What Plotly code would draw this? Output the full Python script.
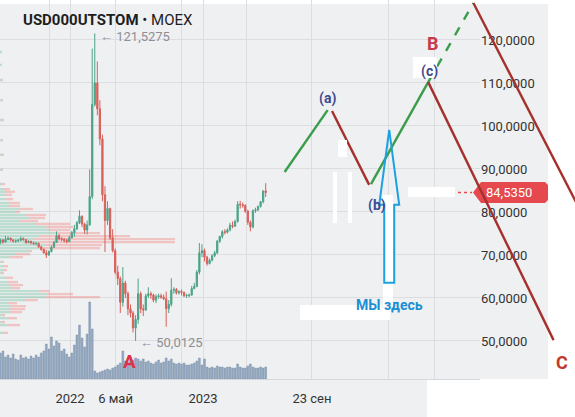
import pandas as pd
import plotly.graph_objects as go

# ---------------- data ----------------
week_start = "2021-06-24"  # weekly candles (Thursdays)
opens = [72.9, 73.5, 73.0, 73.6, 73.9, 73.5, 73.2, 73.3, 73.4, 73.8, 73.6, 72.9, 73.2, 72.8, 72.6, 72.7, 71.9, 71.3, 70.5, 70.0,
         70.8, 71.8, 72.9, 74.5, 73.8, 73.6, 73.4, 73.1,
         74.0, 75.2, 76.1, 77.5, 79.0, 77.2, 75.8, 77.0, 83.6, 105.0, 110.0, 104.0, 97.0, 84.0, 78.0, 80.8, 74.0, 71.0, 66.0, 64.5,
         59.0, 63.5, 61.0, 57.5, 56.5, 53.0, 55.0, 61.0, 57.5, 57.2, 60.5, 61.0, 60.7, 59.5, 60.3, 60.5, 60.2, 59.8, 57.5, 58.5,
         61.8, 62.0, 61.2, 61.5, 61.3, 60.5, 60.6, 60.7, 62.2, 62.7, 66.0, 70.5,
         71.0, 69.5, 68.0, 68.8, 69.8, 70.5, 73.2, 74.3, 75.4, 75.3, 75.8, 76.9, 76.7, 77.8, 81.8, 81.7, 81.5, 80.2, 77.6, 76.5,
         80.3, 80.5, 81.3, 82.4, 84.9]
highs = [73.8, 73.7, 74.4, 74.3, 74.1, 73.7, 73.6, 73.7, 74.3, 74.1, 73.7, 73.4, 73.3, 73.1, 73.0, 72.9, 72.1, 71.5, 71.2, 71.0,
         72.2, 73.3, 75.5, 74.9, 74.1, 74.0, 73.8, 74.5,
         75.6, 77.0, 77.9, 80.4, 79.2, 77.5, 78.0, 89.9, 118.0, 121.5275, 115.0, 106.0, 98.0, 86.0, 82.5, 81.0, 76.0, 71.5, 67.5, 65.0,
         67.2, 64.0, 61.5, 58.5, 57.0, 56.0, 64.5, 61.5, 58.5, 61.0, 62.5, 61.5, 61.0, 60.8, 61.0, 61.0, 60.8, 61.5, 59.5, 64.6,
         62.5, 62.3, 61.8, 62.0, 61.5, 61.0, 61.0, 62.8, 63.5, 66.5, 72.8, 72.5,
         71.5, 69.8, 69.2, 70.2, 71.0, 73.5, 74.5, 75.8, 76.0, 76.2, 77.5, 77.8, 78.2, 82.5, 82.6, 82.2, 81.8, 80.5, 78.0, 80.6,
         81.0, 81.5, 82.5, 85.0, 86.7]
lows = [72.5, 72.6, 72.9, 73.4, 73.2, 72.9, 72.8, 73.0, 73.2, 73.3, 72.6, 72.7, 72.5, 72.4, 72.3, 71.6, 71.0, 70.3, 69.3, 69.8,
        70.6, 71.7, 72.8, 73.4, 73.2, 72.9, 72.7, 73.0,
        73.9, 74.3, 75.8, 77.2, 76.5, 74.9, 74.8, 76.8, 83.0, 104.5, 102.5, 95.5, 82.5, 70.7, 77.0, 73.5, 70.6, 65.5, 63.0, 56.5,
        58.0, 60.0, 56.0, 55.5, 52.0, 50.0125, 54.0, 56.5, 55.8, 57.0, 60.0, 59.8, 59.0, 58.8, 59.8, 59.8, 59.5, 53.3, 56.5, 58.0,
        61.0, 60.8, 60.8, 60.6, 60.2, 60.0, 60.1, 60.5, 62.0, 62.5, 65.5, 69.5,
        68.5, 67.5, 67.8, 68.5, 69.5, 70.2, 72.8, 73.8, 74.8, 75.0, 75.5, 76.2, 76.5, 77.5, 80.8, 81.0, 79.8, 77.0, 75.5, 76.2,
        79.8, 80.2, 81.0, 82.0, 83.5]
closes = [73.5, 73.0, 73.6, 73.9, 73.5, 73.2, 73.3, 73.4, 73.8, 73.6, 72.9, 73.2, 72.8, 72.6, 72.7, 71.9, 71.3, 70.5, 70.0, 70.8,
          71.8, 72.9, 74.5, 73.8, 73.6, 73.4, 73.1, 74.0,
          75.2, 76.1, 77.5, 79.0, 77.2, 75.8, 77.0, 83.6, 105.0, 110.0, 104.0, 97.0, 84.0, 78.0, 80.8, 74.0, 71.0, 66.0, 64.5, 59.0,
          63.5, 61.0, 57.5, 56.5, 53.0, 55.0, 61.0, 57.5, 57.2, 60.5, 61.0, 60.7, 59.5, 60.3, 60.5, 60.2, 59.8, 57.5, 58.5, 61.8,
          62.0, 61.2, 61.5, 61.3, 60.5, 60.6, 60.7, 62.2, 62.7, 66.0, 70.5, 71.0,
          69.5, 68.0, 68.8, 69.8, 70.5, 73.2, 74.3, 75.4, 75.3, 75.8, 76.9, 76.7, 77.8, 81.8, 81.7, 81.5, 80.2, 77.6, 76.5, 80.3,
          80.5, 81.3, 82.4, 84.9, 84.535]
volumes = [26, 28, 22, 24, 21, 25, 20, 19, 24, 21, 22, 20, 23, 21, 24, 22, 26, 28, 35, 30, 42, 33, 38, 36, 28, 30, 25, 22,
           26, 34, 44, 54, 41, 32, 45, 77, 50, 8, 6, 7, 8, 9, 10, 9, 11, 12, 14, 16, 28, 18, 17, 22, 19, 21,
           20, 18, 20, 17, 18, 16, 15, 17, 19, 16, 17, 21, 18, 20, 16, 15, 16, 15, 16, 14, 14, 15, 16, 18, 21, 14,
           20, 12, 11, 12, 11, 13, 12, 12, 11, 12, 12, 11, 11, 15, 12, 11, 11, 13, 15, 12, 11, 11, 12, 11, 12]

# volume profile (price level, up volume, down volume)
profile_price = [117.2, 114.2, 110.7, 106.0, 101.4, 96.7, 93.3, 89.8, 86.5, 85.3, 84.7, 84.0, 83.0, 82.1, 81.4, 80.7, 80.0,
                 79.3, 78.6, 77.9, 77.2, 76.5, 75.8, 75.1, 74.4, 73.7, 73.0, 72.3, 71.6, 70.9, 70.2, 69.5, 68.4, 67.4, 66.5,
                 65.8, 64.7, 63.7, 63.0, 62.3, 61.6, 60.9, 60.2, 59.5, 58.8, 58.1, 57.4, 56.7, 56.0, 55.3, 54.4, 53.7, 51.9]
profile_up = [1, 1, 1, 2, 2, 1, 2, 1, 2, 4, 6, 5, 6, 10, 9, 20, 15, 25, 30, 20, 35, 45, 50, 55, 40, 33, 40, 45, 40, 30, 15,
              10, 2, 3, 3, 2, 6, 8, 10, 12, 40, 48, 45, 25, 8, 12, 10, 9, 2, 7, 2, 8, 3]
profile_down = [1, 1, 2, 1, 2, 2, 2, 2, 3, 6, 9, 7, 7, 10, 11, 13, 5, 21, 15, 18, 35, 28, 20, 45, 90, 142, 135, 57, 60, 2,
                15, 13, 2, 5, 4, 2, 7, 10, 13, 8, 10, 25, 55, 13, 9, 14, 15, 13, 3, 10, 3, 12, 5]

# hand-drawn wave projection
wave_dates = ["2023-08-13", "2023-12-09", "2023-12-21", "2024-04-01", "2024-04-06",
              "2024-09-10", "2025-01-12", "2025-08-20", "2025-11-29"]
wave_prices = [89.3, 103.7, 103.5, 86.3, 86.5, 110.2, 128.6, 50.2, 75.8]
here_date, here_price = "2024-05-26", 99.1

x_tickvals = ["2022-01-01", "2022-05-06", "2023-01-01", "2023-10-27"]
x_ticktext = ["2022", "6 май", "2023", "23 сен"]
x_minor_grid = ["2021-11-06", "2022-11-04", "2023-05-01", "2024-05-23", "2024-09-26"]
y_tickvals = [50, 60, 70, 80, 90, 100, 110, 120]

# ---------------- geometry ----------------
W, H, B = 575, 417, 38
PH = H - B
px_per_day = 0.3644
view_start = pd.Timestamp("2021-06-22 21:36")
main_px = 480
view_end = view_start + pd.Timedelta(days=main_px / px_per_day)
full_end = view_start + pd.Timedelta(days=W / px_per_day)
y_range = [41.16, 129.30]
MS_DAY = 86400000

weeks = pd.date_range(week_start, periods=len(closes), freq="7D")

GREEN_C = "#4da389"
RED_C = "#d95f59"
WAVE_G = "#3a9d4b"
WAVE_R = "#a5302c"
LBL = "#3d4a8f"
BG = "#eff0f2"
GRID = "#dcdde1"

fig = go.Figure()

# volume profile on the main date axis
prof_max = max(u + d for u, d in zip(profile_up, profile_down))
prof_scale_ms = 175 / prof_max / px_per_day * MS_DAY
up_ms = [u * prof_scale_ms for u in profile_up]
down_ms = [d * prof_scale_ms for d in profile_down]
down_base = [view_start + pd.Timedelta(milliseconds=u) for u in up_ms]
fig.add_trace(go.Bar(y=profile_price, x=up_ms, base=[view_start] * len(up_ms), orientation="h",
                     width=0.55, marker=dict(color="rgba(120,195,165,0.42)", line=dict(width=0)),
                     hoverinfo="skip", showlegend=False))
fig.add_trace(go.Bar(y=profile_price, x=down_ms, base=down_base, orientation="h",
                     width=0.55, marker=dict(color="rgba(240,135,128,0.42)", line=dict(width=0)),
                     hoverinfo="skip", showlegend=False))

# volume
fig.add_trace(go.Bar(x=weeks, y=volumes, yaxis="y2", width=5 * MS_DAY,
                     marker=dict(color="#93a8bf", line=dict(color="#7c93ac", width=0.5)),
                     showlegend=False))

# candles
fig.add_trace(go.Candlestick(x=weeks, open=opens, high=highs, low=lows, close=closes,
                             increasing=dict(line=dict(color=GREEN_C, width=1), fillcolor=GREEN_C),
                             decreasing=dict(line=dict(color=RED_C, width=1), fillcolor=RED_C),
                             whiskerwidth=0, showlegend=False))

# wave projection on full-width overlay axes
def seg(i, j):
    return [wave_dates[i], wave_dates[j]], [wave_prices[i], wave_prices[j]]

for (i, j), col, dash in [((0, 1), WAVE_G, "solid"), ((4, 5), WAVE_G, "solid"), ((5, 6), WAVE_G, "dash"),
                          ((2, 3), WAVE_R, "solid"), ((5, 7), WAVE_R, "solid"), ((6, 8), WAVE_R, "solid")]:
    xs, ys = seg(i, j)
    fig.add_trace(go.Scatter(x=xs, y=ys, xaxis="x3", yaxis="y3", mode="lines",
                             line=dict(color=col, width=2.4, dash=dash), showlegend=False, hoverinfo="skip"))

def px_x(x):
    return x / W

def px_y(y):
    return (PH - y) / PH

shapes = [
    dict(type="rect", xref="paper", yref="paper", x0=0, x1=px_x(548), y0=px_y(379), y1=px_y(4),
         fillcolor=BG, line=dict(width=0), layer="below"),
    dict(type="rect", xref="paper", yref="paper", x0=0, x1=px_x(427), y0=px_y(417), y1=px_y(379),
         fillcolor=BG, line=dict(width=0), layer="below"),
    # last price marker
    dict(type="path", xref="paper", yref="y", xsizemode="pixel", ysizemode="pixel",
         xanchor=px_x(473), yanchor=closes[-1],
         path="M0,0 L8,10.5 L72,10.5 L75,7.5 L75,-7.5 L72,-10.5 L8,-10.5 Z",
         fillcolor="#e5484d", line=dict(width=0), layer="below"),
    dict(type="line", xref="paper", yref="y", x0=px_x(452), x1=px_x(472), y0=closes[-1], y1=closes[-1],
         line=dict(color="#e5484d", width=1.5, dash="dot"), layer="below"),
]
# white erasures in the picture
for (a, b, c, d) in [(408, 187, 455, 197), (383, 195, 393, 313), (300, 305, 390, 320), (413, 57, 437, 78),
                     (333, 172, 337, 223), (348, 172, 352, 223), (338, 140, 347, 157)]:
    shapes.append(dict(type="rect", xref="paper", yref="paper", x0=px_x(a), x1=px_x(c), y0=px_y(d), y1=px_y(b),
                       fillcolor="white", line=dict(width=0), layer="above"))
# "we are here" arrow (outline)
shapes.append(dict(type="path", xref="x3", yref="y3", xsizemode="pixel", ysizemode="pixel",
                   xanchor=here_date, yanchor=here_price,
                   path="M0,0 L10,-75 L5,-75 L5,-153 L-5,-153 L-5,-75 L-10,-75 Z",
                   line=dict(color="#1da1e0", width=2), fillcolor="rgba(0,0,0,0)", layer="above"))

i_hi = highs.index(max(highs))
i_lo = lows.index(min(lows))
fmt = lambda v: f"{v:.4f}".replace(".", ",")

annotations = [
    dict(xref="paper", yref="paper", x=px_x(21), y=px_y(20), xanchor="left", yanchor="middle", showarrow=False,
         text="<b>USD000UTSTOM</b> • MOEX", font=dict(size=15, color="#1e1e1e", family="Roboto")),
    dict(xref="x", yref="y", x=weeks[i_hi], y=highs[i_hi], xanchor="left", yanchor="middle", xshift=3, yshift=-3,
         showarrow=False, text="← " + fmt(highs[i_hi]), font=dict(size=13, color="#8e8e93")),
    dict(xref="x", yref="y", x=weeks[i_lo], y=lows[i_lo], xanchor="left", yanchor="middle", xshift=2, yshift=-2,
         showarrow=False, text="← " + fmt(lows[i_lo]), font=dict(size=13, color="#8e8e93")),
    dict(xref="x", yref="y", x=weeks[i_lo], y=lows[i_lo], xshift=-6, yshift=-21, showarrow=False,
         text="<b>A</b>", font=dict(size=19, color="#e0304a")),
    dict(xref="paper", yref="y", x=px_x(484), y=closes[-1], xanchor="left", yanchor="middle", showarrow=False,
         text=fmt(closes[-1]), font=dict(size=13, color="white")),
    dict(xref="x3", yref="y3", x=wave_dates[1], y=wave_prices[1], yshift=12, showarrow=False,
         text="<b>(a)</b>", font=dict(size=14, color=LBL)),
    dict(xref="x3", yref="y3", x=wave_dates[3], y=wave_prices[3], xshift=8, yshift=-21, showarrow=False,
         text="<b>(b)</b>", font=dict(size=14, color=LBL)),
    dict(xref="x3", yref="y3", x=wave_dates[5], y=wave_prices[5], xshift=1, yshift=11, showarrow=False,
         text="<b>(c)</b>", font=dict(size=14, color=LBL)),
    dict(xref="x3", yref="y3", x=wave_dates[5], y=wave_prices[5], xshift=5, yshift=39, showarrow=False,
         text="<b>B</b>", font=dict(size=18, color="#c83a4b")),
    dict(xref="x3", yref="y3", x=wave_dates[7], y=wave_prices[7], xshift=8, yshift=-22, showarrow=False,
         text="<b>C</b>", font=dict(size=18, color="#c0392b")),
    dict(xref="x3", yref="y3", x=here_date, y=here_price, yshift=-175, showarrow=False,
         text="<b>МЫ здесь</b>", font=dict(size=14, color="#1b8fd2")),
]

fig.update_layout(
    width=W, height=H, autosize=False, template="none",
    margin=dict(l=0, r=0, t=0, b=B, pad=0),
    paper_bgcolor="white", plot_bgcolor="rgba(0,0,0,0)",
    font=dict(family="Roboto", size=13, color="#333333"),
    separators=", ",
    barmode="overlay", showlegend=False,
    xaxis=dict(type="date", domain=[0, main_px / W], range=[view_start, view_end], anchor="y",
               tickmode="array", tickvals=x_tickvals, ticktext=x_ticktext,
               ticks="outside", ticklen=7, tickcolor="rgba(0,0,0,0)",
               showgrid=True, gridcolor=GRID, gridwidth=1, zeroline=False,
               showline=True, linecolor="#d6d7db", linewidth=1,
               minor=dict(tickmode="array", tickvals=x_minor_grid, showgrid=True, gridcolor=GRID, ticks=""),
               rangeslider=dict(visible=False), automargin=False,
               tickfont=dict(size=13, color="#333333")),
    yaxis=dict(domain=[0, 1], range=y_range, side="right", anchor="x",
               tickmode="array", tickvals=y_tickvals, tickformat=".4f",
               ticks="", showgrid=True, gridcolor=GRID, gridwidth=1, zeroline=False, showline=False,
               automargin=False, tickfont=dict(size=13, color="#333333")),
    yaxis2=dict(overlaying="y", anchor="x", range=[0, max(volumes) * PH / 77], visible=False),
    xaxis3=dict(type="date", domain=[0, 1], range=[view_start, full_end], anchor="y3", visible=False),
    yaxis3=dict(domain=[0, 1], range=y_range, anchor="x3", visible=False),
    shapes=shapes, annotations=annotations,
)

fig.write_html("out.html", config={"displayModeBar": False},
               post_script="document.body.style.margin='0';document.body.style.padding='0';")
